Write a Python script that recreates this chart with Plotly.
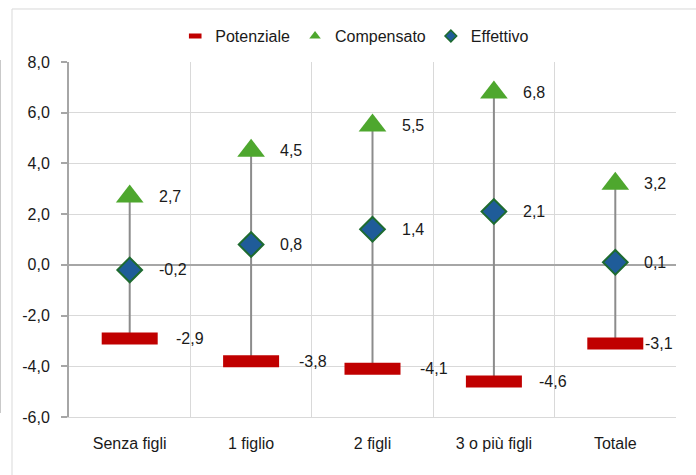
import plotly.graph_objects as go

categories = ["Senza figli", "1 figlio", "2 figli", "3 o più figli", "Totale"]
potenziale = [-2.9, -3.8, -4.1, -4.6, -3.1]
compensato = [2.7, 4.5, 5.5, 6.8, 3.2]
effettivo = [-0.2, 0.8, 1.4, 2.1, 0.1]
ytick_vals = [-6, -4, -2, 0, 2, 4, 6, 8]
ytick_labels = ["-6,0", "-4,0", "-2,0", "0,0", "2,0", "4,0", "6,0", "8,0"]

# style: horizontal shift of the data labels (px)
pot_label_shift = [44, 46, 45, 43, 28]
other_label_shift = 27

RED = "#C00000"
GREEN = "#4EA72E"
BLUE = "#1F5C99"
DKGREEN = "#1E6B30"
FONT = "Liberation Sans, Arial, sans-serif"


def fmt(v):
    return f"{v:.1f}".replace(".", ",")


fig = go.Figure()

# connectors (high-low lines)
cx, cy = [], []
for c, lo, hi in zip(categories, potenziale, compensato):
    cx += [c, c, None]
    cy += [lo, hi, None]
fig.add_trace(go.Scatter(x=cx, y=cy, mode="lines", line=dict(color="#8C8C8C", width=2),
                         showlegend=False, hoverinfo="skip"))

pot_marker = dict(symbol="line-ew", size=40, color=RED, line=dict(color=RED, width=12))
comp_marker = dict(symbol="triangle-up", size=24, color=GREEN, line=dict(width=0))
eff_marker = dict(symbol="diamond", size=19, color=BLUE, line=dict(color=DKGREEN, width=2))

fig.add_trace(go.Scatter(x=categories, y=potenziale, mode="markers", name="Potenziale",
                         marker=pot_marker, showlegend=False))
fig.add_trace(go.Scatter(x=categories, y=compensato, mode="markers", name="Compensato",
                         marker=comp_marker, showlegend=False))
fig.add_trace(go.Scatter(x=categories, y=effettivo, mode="markers", name="Effettivo",
                         marker=eff_marker, showlegend=False))

# legend entries with smaller symbols
fig.add_trace(go.Scatter(x=[None], y=[None], mode="markers", name="Potenziale",
                         marker=dict(symbol="line-ew", size=9, color=RED,
                                     line=dict(color=RED, width=5))))
fig.add_trace(go.Scatter(x=[None], y=[None], mode="markers", name="Compensato",
                         marker=dict(symbol="triangle-up", size=10, color=GREEN,
                                     line=dict(width=0))))
fig.add_trace(go.Scatter(x=[None], y=[None], mode="markers", name="Effettivo",
                         marker=dict(symbol="diamond", size=9, color=BLUE,
                                     line=dict(color=DKGREEN, width=1.5))))

ann = []
for i, c in enumerate(categories):
    ann.append(dict(x=c, y=potenziale[i], text=fmt(potenziale[i]), xanchor="left",
                    yanchor="middle", xshift=pot_label_shift[i], showarrow=False))
    ann.append(dict(x=c, y=compensato[i], text=fmt(compensato[i]), xanchor="left",
                    yanchor="middle", xshift=other_label_shift, showarrow=False))
    ann.append(dict(x=c, y=effettivo[i], text=fmt(effettivo[i]), xanchor="left",
                    yanchor="middle", xshift=other_label_shift, showarrow=False))
for a in ann:
    a["font"] = dict(family=FONT, size=16, color="#1A1A1A")

frame = "#D9D9D9"
shapes = [
    dict(type="line", xref="paper", yref="paper", x0=-0.0939, x1=1.04, y0=1.1493, y1=1.1493,
         line=dict(color=frame, width=1)),
    dict(type="line", xref="paper", yref="paper", x0=-0.0939, x1=-0.0939, y0=1.1493, y1=-0.2,
         line=dict(color=frame, width=1)),
    dict(type="line", xref="paper", yref="paper", x0=-0.1129, x1=-0.1129, y0=1.0056, y1=0.0113,
         line=dict(color="#C8C8C8", width=1)),
]

fig.update_layout(
    width=696, height=475,
    margin=dict(l=69, r=20, t=62, b=58),
    paper_bgcolor="white", plot_bgcolor="white",
    font=dict(family=FONT, size=16, color="#1A1A1A"),
    annotations=ann,
    shapes=shapes,
    showlegend=True,
    legend=dict(orientation="h", x=0.175, xanchor="left", y=1.073, yanchor="middle",
                itemsizing="trace", font=dict(size=16), bgcolor="rgba(0,0,0,0)",
                tracegroupgap=0),
)
fig.update_xaxes(type="category", categoryorder="array", categoryarray=categories,
                 range=[-0.5, 4.5], tickson="boundaries", showgrid=True, gridcolor=frame,
                 gridwidth=1, showline=True, linecolor=frame, linewidth=1, ticks="",
                 ticklabelstandoff=12, tickfont=dict(size=16), zeroline=False)
fig.update_yaxes(range=[-6, 8], tickvals=ytick_vals, ticktext=ytick_labels,
                 showgrid=True, gridcolor=frame, gridwidth=1,
                 showline=True, linecolor="#A6A6A6", linewidth=2,
                 ticks="outside", ticklen=6, tickcolor="#A6A6A6", tickwidth=1.5,
                 ticklabelstandoff=8, zeroline=True, zerolinecolor="#A6A6A6", zerolinewidth=2,
                 tickfont=dict(size=16))

fig.write_html("out.html")
